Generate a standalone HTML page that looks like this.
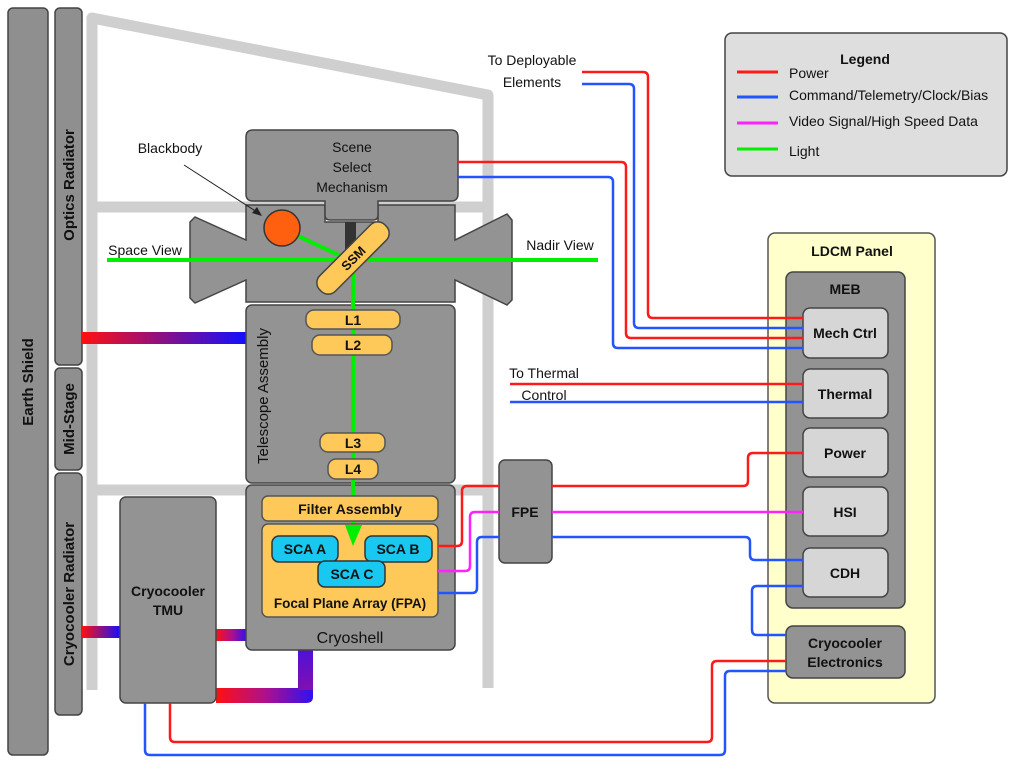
<!DOCTYPE html>
<html><head><meta charset="utf-8"><style>
body{margin:0;background:#fff}
svg{display:block;font-family:"Liberation Sans",sans-serif}
.b{font-weight:bold}
</style></head><body>
<svg width="1024" height="776" viewBox="0 0 1024 776" xmlns="http://www.w3.org/2000/svg">
<defs>
<linearGradient id="g1" x1="0" x2="1" y1="0" y2="0"><stop offset="0" stop-color="#ff1010"/><stop offset="1" stop-color="#1010ff"/></linearGradient>
<linearGradient id="g2" x1="0" x2="1" y1="0" y2="0"><stop offset="0" stop-color="#ff1010"/><stop offset="0.5" stop-color="#b0108a"/><stop offset="1" stop-color="#3010f0"/></linearGradient>
<linearGradient id="g3" x1="0" x2="0" y1="1" y2="0"><stop offset="0" stop-color="#8010b0"/><stop offset="1" stop-color="#2010ff"/></linearGradient>
</defs>
<g stroke="#cfcfcf" stroke-width="11" fill="none" stroke-linejoin="round">
<path d="M92,690 V18 L488,95 V688"/>
<path d="M92,207 H488"/>
<path d="M92,490 H488"/>
</g>
<g fill="#8f8f8f" stroke="#444" stroke-width="1.5">
<rect x="8" y="8" width="40" height="747" rx="5"/>
<rect x="55" y="8" width="27" height="357" rx="5"/>
<rect x="55" y="368" width="27" height="102" rx="5"/>
<rect x="55" y="473" width="27" height="242" rx="5"/>
</g>
<g class="b" font-size="15" fill="#111" text-anchor="middle">
<text transform="translate(33,382) rotate(-90)">Earth Shield</text>
<text transform="translate(74,185) rotate(-90)">Optics Radiator</text>
<text transform="translate(74,419) rotate(-90)">Mid-Stage</text>
<text transform="translate(74,594) rotate(-90)">Cryocooler Radiator</text>
</g>
<rect x="82" y="332" width="165" height="12" fill="url(#g1)"/>
<rect x="82" y="626" width="39" height="12" fill="url(#g1)"/>
<rect x="216" y="629" width="31" height="12" fill="url(#g2)"/>
<path d="M216,688 H298 V610 H313 V697 Q313,703 306,703 H216 Z" fill="url(#g2)"/>
<rect x="298" y="610" width="15" height="80" fill="url(#g3)"/>
<g fill="#939393" stroke="#444" stroke-width="1.5">
<path d="M246,205 H325 V222 H378 V205 H455 V240 L507,214 L512,220 V300 L507,305 L455,280 V302 H246 V280 L195,303 L190,298 V222 L195,217 L246,240 Z"/>
<path d="M253,130 H451 Q458,130 458,137 V194 Q458,201 451,201 H378 V215 Q378,220 373,220 H330 Q325,220 325,215 V201 H253 Q246,201 246,194 V137 Q246,130 253,130 Z"/>
<rect x="246" y="305" width="209" height="178" rx="6"/>
<rect x="246" y="485" width="209" height="165" rx="6"/>
<rect x="120" y="497" width="96" height="206" rx="6"/>
<rect x="499" y="460" width="53" height="103" rx="6"/>
</g>
<rect x="345" y="222" width="11" height="30" fill="#333"/>
<g font-size="14" fill="#111" text-anchor="middle">
<text x="352" y="152">Scene</text><text x="352" y="172">Select</text><text x="352" y="192">Mechanism</text>
<text x="170" y="153">Blackbody</text>
<text x="145" y="255">Space View</text>
<text x="560" y="250">Nadir View</text>
<text x="532" y="65">To Deployable</text><text x="532" y="87">Elements</text>
<text x="544" y="378">To Thermal</text><text x="544" y="400">Control</text>
<text x="350" y="643" font-size="16">Cryoshell</text>
<text transform="translate(268,396) rotate(-90)" font-size="15">Telescope Assembly</text>
</g>
<line x1="184" y1="165" x2="260" y2="214" stroke="#222" stroke-width="1"/>
<path d="M262,216 L252,213 L257,207 Z" fill="#222"/>
<g stroke="#00ee00" stroke-width="4" fill="none">
<line x1="107" y1="260" x2="598" y2="260"/>
<line x1="298" y1="236" x2="345" y2="258"/>
<line x1="353" y1="262" x2="353" y2="525"/>
</g>
<circle cx="282" cy="228" r="18" fill="#ff6010" stroke="#333" stroke-width="1.5"/>
<g transform="translate(353,258) rotate(-45)">
<rect x="-46" y="-11" width="92" height="22" rx="10" fill="#ffc95a" stroke="#444" stroke-width="1.5"/>
<text x="0" y="5" text-anchor="middle" class="b" font-size="13" fill="#111">SSM</text>
</g>
<g fill="#ffc95a" stroke="#555" stroke-width="1.5">
<rect x="306" y="310" width="94" height="19" rx="8"/>
<rect x="312" y="335" width="80" height="20" rx="8"/>
<rect x="320" y="433" width="65" height="19" rx="8"/>
<rect x="328" y="459" width="50" height="20" rx="8"/>
<rect x="262" y="496" width="176" height="25" rx="6"/>
<rect x="262" y="524" width="176" height="93" rx="6"/>
</g>
<path d="M345,525 H362 L353,546 Z" fill="#00ee00"/>
<g fill="#18c8f0" stroke="#333" stroke-width="1.5">
<rect x="272" y="536" width="66" height="26" rx="7"/>
<rect x="365" y="536" width="67" height="26" rx="7"/>
<rect x="318" y="561" width="67" height="26" rx="7"/>
</g>
<g class="b" fill="#111" text-anchor="middle" font-size="14">
<text x="353" y="325">L1</text><text x="353" y="350">L2</text>
<text x="353" y="448">L3</text><text x="353" y="474">L4</text>
<text x="350" y="514">Filter Assembly</text>
<text x="305" y="554">SCA A</text><text x="398" y="554">SCA B</text><text x="352" y="579">SCA C</text>
<text x="350" y="608" font-size="13.5">Focal Plane Array (FPA)</text>
<text x="168" y="596">Cryocooler</text><text x="168" y="615">TMU</text>
<text x="525" y="517">FPE</text>
</g>
<rect x="768" y="233" width="167" height="470" rx="7" fill="#ffffcc" stroke="#555" stroke-width="1.5"/>
<rect x="786" y="272" width="119" height="336" rx="7" fill="#939393" stroke="#444" stroke-width="1.5"/>
<rect x="786" y="626" width="119" height="52" rx="7" fill="#939393" stroke="#444" stroke-width="1.5"/>
<g fill="#d6d6d6" stroke="#444" stroke-width="1.5">
<rect x="803" y="308" width="85" height="50" rx="7"/>
<rect x="803" y="369" width="85" height="49" rx="7"/>
<rect x="803" y="428" width="85" height="49" rx="7"/>
<rect x="803" y="487" width="85" height="49" rx="7"/>
<rect x="803" y="548" width="85" height="49" rx="7"/>
</g>
<g class="b" fill="#111" text-anchor="middle" font-size="14">
<text x="852" y="256">LDCM Panel</text>
<text x="845" y="294">MEB</text>
<text x="845" y="338">Mech Ctrl</text>
<text x="845" y="399">Thermal</text>
<text x="845" y="458">Power</text>
<text x="845" y="517">HSI</text>
<text x="845" y="578">CDH</text>
<text x="845" y="648">Cryocooler</text><text x="845" y="667">Electronics</text>
</g>
<g fill="none" stroke-width="2.5" stroke-linejoin="round">
<path d="M582,72 H643 Q648,72 648,77 V313 Q648,318 653,318 H803" stroke="#ff1a1a"/>
<path d="M582,84 H629 Q634,84 634,89 V323 Q634,328 639,328 H803" stroke="#2255ff"/>
<path d="M458,162 H621 Q626,162 626,167 V333 Q626,338 631,338 H803" stroke="#ff1a1a"/>
<path d="M458,177 H608 Q613,177 613,182 V343 Q613,348 618,348 H803" stroke="#2255ff"/>
<path d="M510,384 H803" stroke="#ff1a1a"/>
<path d="M510,402 H803" stroke="#2255ff"/>
<path d="M552,486 H743 Q748,486 748,481 V458 Q748,453 753,453 H803" stroke="#ff1a1a"/>
<path d="M552,512 H803" stroke="#ff22ff"/>
<path d="M552,537 H745 Q750,537 750,542 V555 Q750,560 755,560 H803" stroke="#2255ff"/>
<path d="M438,546 H457 Q462,546 462,541 V491 Q462,486 467,486 H499" stroke="#ff1a1a"/>
<path d="M438,571 H465 Q470,571 470,566 V517 Q470,512 475,512 H499" stroke="#ff22ff"/>
<path d="M438,593 H472 Q477,593 477,588 V542 Q477,537 482,537 H499" stroke="#2255ff"/>
<path d="M803,586 H757 Q752,586 752,591 V630 Q752,635 757,635 H786" stroke="#2255ff"/>
<path d="M786,661 H717 Q712,661 712,666 V737 Q712,742 707,742 H175 Q170,742 170,737 V703" stroke="#ff1a1a"/>
<path d="M786,671 H730 Q725,671 725,676 V750 Q725,755 720,755 H150 Q145,755 145,750 V703" stroke="#2255ff"/>
</g>
<rect x="725" y="33" width="282" height="143" rx="7" fill="#dedede" stroke="#444" stroke-width="1.5"/>
<text x="865" y="64" class="b" font-size="14" text-anchor="middle" fill="#111">Legend</text>
<g stroke-width="3">
<line x1="737" y1="72" x2="778" y2="72" stroke="#ff1a1a"/>
<line x1="737" y1="97" x2="778" y2="97" stroke="#2255ff"/>
<line x1="737" y1="123" x2="778" y2="123" stroke="#ff22ff"/>
<line x1="737" y1="149" x2="778" y2="149" stroke="#00ee00"/>
</g>
<g font-size="14" fill="#111">
<text x="789" y="78">Power</text>
<text x="789" y="100">Command/Telemetry/Clock/Bias</text>
<text x="789" y="126">Video Signal/High Speed Data</text>
<text x="789" y="156">Light</text>
</g>
</svg>
</body></html>
